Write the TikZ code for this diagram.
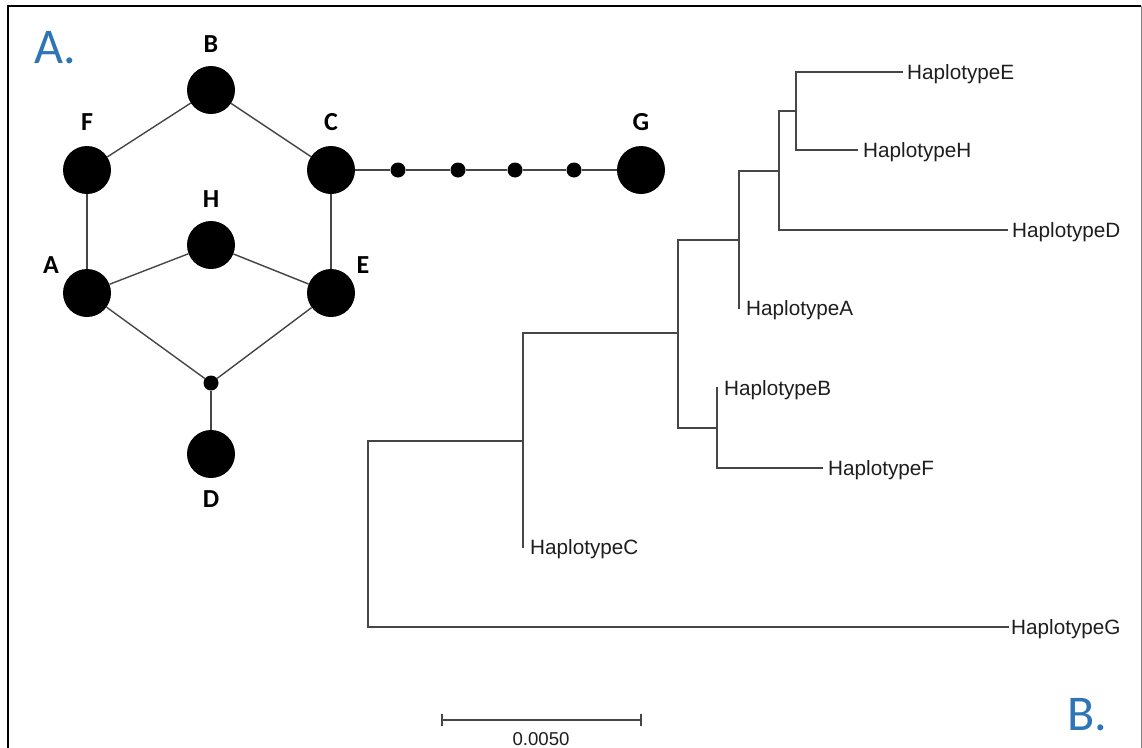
\documentclass[tikz,border=0pt]{standalone}
\usepackage{fontspec}
\setmainfont{Liberation Sans}
\newfontfamily\calibri{Carlito}
\definecolor{panelblue}{RGB}{46,117,182}
\definecolor{linegray}{RGB}{70,70,70}
\definecolor{textgray}{RGB}{30,30,30}
\tikzset{
  bigdot/.style={circle, fill=black, draw=none, minimum size=48pt, inner sep=0pt},
  smalldot/.style={circle, fill=black, draw=none, minimum size=15pt, inner sep=0pt},
  edge/.style={draw=linegray, line width=1.4pt},
  br/.style={draw=linegray, line width=1.5pt, line cap=rect},
  hlabel/.style={font=\calibri\bfseries\fontsize{26}{30}\selectfont, anchor=base, inner sep=0pt},
  leaf/.style={font=\fontsize{20.7}{24}\selectfont, text=textgray, anchor=base west, inner sep=0pt},
  panel/.style={font=\calibri\fontsize{50}{56}\selectfont, text=panelblue, anchor=base west, inner sep=0pt}
}
\begin{document}
\begin{tikzpicture}[x=1pt,y=-1pt]
\useasboundingbox (0,0) rectangle (1142,747);
\fill[white] (0,0) rectangle (1142,747);
\clip (0,0) rectangle (1142,747);
% frame
\draw[line width=2.5pt] (8,760) -- (8,6) -- (1141,6);
\draw[line width=1pt, gray] (1141,6) -- (1141,760);

% ---------- A. network ----------
\node[panel] (pA) at (34,63) {A.};
\node[bigdot] (B) at (211,90) {};
\node[bigdot] (F) at (87,170) {};
\node[bigdot] (C) at (331,170) {};
\node[bigdot] (H) at (211,245) {};
\node[bigdot] (A) at (87,293) {};
\node[bigdot] (E) at (331,293) {};
\node[smalldot] (m) at (211,383) {};
\node[bigdot] (D) at (211,454) {};
\node[bigdot] (G) at (641,170) {};
\node[smalldot] (g1) at (398,170) {};
\node[smalldot] (g2) at (458,170) {};
\node[smalldot] (g3) at (515,170) {};
\node[smalldot] (g4) at (574,170) {};

\draw[edge] (F) -- (B);
\draw[edge] (B) -- (C);
\draw[edge] (F) -- (A);
\draw[edge] (C) -- (E);
\draw[edge] (A) -- (H);
\draw[edge] (H) -- (E);
\draw[edge] (A) -- (m);
\draw[edge] (E) -- (m);
\draw[edge] (m) -- (D);
\draw[edge] (C) -- (g1);
\draw[edge] (g1) -- (g2);
\draw[edge] (g2) -- (g3);
\draw[edge] (g3) -- (g4);
\draw[edge] (g4) -- (G);

\node[hlabel] (lB) at (211,52) {B};
\node[hlabel] (lF) at (87,130) {F};
\node[hlabel] (lC) at (331,130) {C};
\node[hlabel] (lG) at (641,130) {G};
\node[hlabel] (lH) at (211,207) {H};
\node[hlabel] (lA) at (51,273) {A};
\node[hlabel] (lE) at (363,273) {E};
\node[hlabel] (lD) at (211,507) {D};

% ---------- B. tree ----------
\coordinate (rt) at (368,441);
\coordinate (rb) at (368,627);
\coordinate (tG) at (1008,627);
\coordinate (n1) at (523,441);
\coordinate (n1t) at (523,333);
\coordinate (tC) at (523,547);
\coordinate (n2) at (678,333);
\coordinate (n2t) at (678,240);
\coordinate (n2b) at (678,428);
\coordinate (n3) at (739,240);
\coordinate (n3t) at (739,171);
\coordinate (tA) at (739,308);
\coordinate (n4) at (779,171);
\coordinate (n4t) at (779,111);
\coordinate (n4b) at (779,230);
\coordinate (tD) at (1007,230);
\coordinate (n5) at (796,111);
\coordinate (n5t) at (796,72);
\coordinate (n5b) at (796,150);
\coordinate (tE) at (902,72);
\coordinate (tH) at (857,150);
\coordinate (n6) at (717,428);
\coordinate (tB) at (717,388);
\coordinate (n6b) at (717,468);
\coordinate (tF) at (822,468);

\draw[br] (tG) -- (rb) -- (rt) -- (n1);
\draw[br] (n1t) -- (tC);
\draw[br] (n1t) -- (n2);
\draw[br] (n2t) -- (n2b);
\draw[br] (n2t) -- (n3);
\draw[br] (n3t) -- (tA);
\draw[br] (n3t) -- (n4);
\draw[br] (n4t) -- (n4b);
\draw[br] (n4b) -- (tD);
\draw[br] (n4t) -- (n5);
\draw[br] (n5t) -- (n5b);
\draw[br] (n5t) -- (tE);
\draw[br] (n5b) -- (tH);
\draw[br] (n2b) -- (n6);
\draw[br] (tB) -- (n6b);
\draw[br] (n6b) -- (tF);

\node[leaf] (LE) at (907,79.4) {HaplotypeE};
\node[leaf] (LH) at (863,157.4) {HaplotypeH};
\node[leaf] (LD) at (1012,237.4) {HaplotypeD};
\node[leaf] (LA) at (746,315.4) {HaplotypeA};
\node[leaf] (LB) at (724,395.4) {HaplotypeB};
\node[leaf] (LF) at (828,475.4) {HaplotypeF};
\node[leaf] (LC) at (530,554.4) {HaplotypeC};
\node[leaf] (LG) at (1011,634.4) {HaplotypeG};

% scale bar
\coordinate (s1) at (442,720);
\coordinate (s2) at (641,720);
\draw[br, line cap=butt] (s1) -- (s2);
\draw[br, line cap=butt] ([yshift=-6pt]s1) -- ([yshift=6pt]s1);
\draw[br, line cap=butt] ([yshift=-6pt]s2) -- ([yshift=6pt]s2);
\node[font=\fontsize{18.6}{22}\selectfont, text=textgray, anchor=base, inner sep=0pt] (sl) at (541,745) {0.0050};

\node[panel] (pB) at (1067,730) {B.};
\end{tikzpicture}
\end{document}
